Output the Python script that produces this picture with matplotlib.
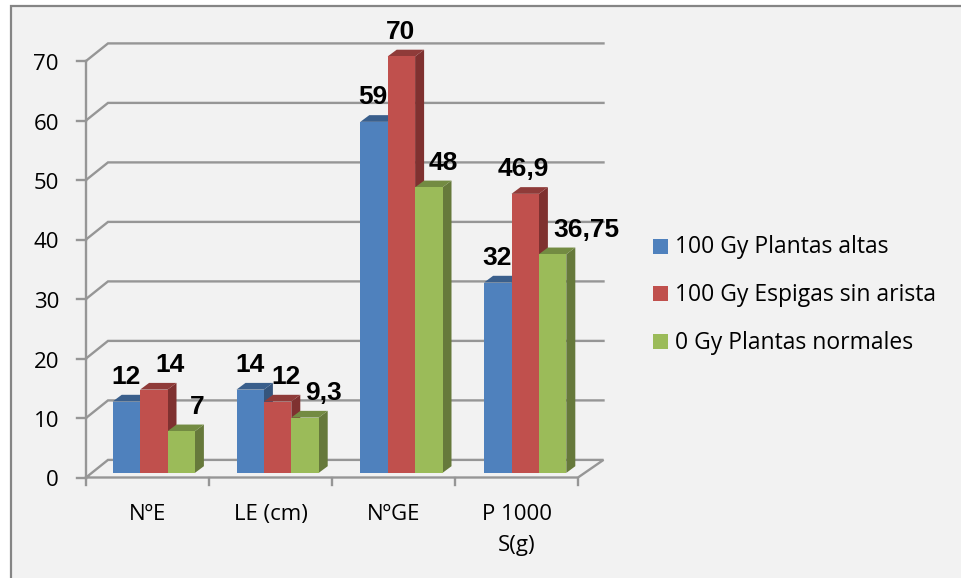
import matplotlib
matplotlib.use('Agg')
import matplotlib.pyplot as plt
from matplotlib.patches import Polygon, Rectangle


categories = ['NºE', 'LE (cm)', 'NºGE', 'P 1000\nS(g)']
series_names = ['100 Gy Plantas altas', '100 Gy Espigas sin arista', '0 Gy Plantas normales']
altas = [12, 14, 59, 32]
espigas = [14, 12, 70, 46.9]
normales = [7, 9.3, 48, 36.75]
value_labels = [['12', '14', '59', '32'],
                ['14', '12', '70', '46,9'],
                ['7', '9,3', '48', '36,75']]
y_ticks = [0, 10, 20, 30, 40, 50, 60, 70]

# sideways nudge of the value labels, in pixels, so they don't collide
label_nudge = [[0, 0, -1, -1],
               [16, 8, -1, -2],
               [16, 18, 15, 34]]

W, H = 961, 578

# colours for front, top and side of each bar
front = ['#4f81bd', '#c0504d', '#9bbb59']
top = ['#3a5f8c', '#8f3b39', '#738b42']
side = ['#35557d', '#7f3130', '#66793b']
grid_col = '#969696'
ui_font = ['Open Sans', 'DejaVu Sans']

fig = plt.figure(figsize=(W / 100, H / 100), dpi=100, facecolor='white')

# outer panel, runs off the right and bottom edges
bg = fig.add_axes([0, 0, 1, 1])
bg.set_xlim(0, W)
bg.set_ylim(H, 0)
bg.axis('off')
bg.add_patch(Rectangle((11, 6), 1000, 620, fc='#f2f2f2', ec='#858585', lw=1.6, clip_on=False))

# axes box is the front face of the plot: x in categories, y in values
left, right, y0, y70 = 86, 578, 477.5, 61
ax = fig.add_axes([left / W, 1 - y0 / H, (right - left) / W, (y0 - y70) / H])
ax.set_xlim(0, 4)
ax.set_ylim(0, 70)
ax.axis('off')

px_x = 4 / (right - left)
px_y = 70 / (y0 - y70)

# depth of the walls and of the bars, in data units
wall_dx, wall_dy = 22 * px_x, 17.6 * px_y
back_right = 4 + 25.5 * px_x
bar_dx, bar_dy = 9 * px_x, 6.7 * px_y
lift = 4.6 * px_y
bar_w = 27.4 * px_x
group_start = 26.7 * px_x
group_pitch = 123.8 * px_x
line_w = 1.7

for v in y_ticks:
    xs = [0, wall_dx, back_right]
    ys = [v, v + wall_dy, v + wall_dy]
    if v == 0:
        # floor outline
        xs = [0, 4, back_right, wall_dx, 0]
        ys = [0, 0, wall_dy, wall_dy, 0]
    ax.plot(xs, ys, color=grid_col, lw=line_w, clip_on=False, solid_joinstyle='miter', zorder=1)
    ax.plot([-9 * px_x, 0], [v, v], color=grid_col, lw=line_w, clip_on=False, zorder=1)
    ax.text(-27 * px_x, v - 3.5 * px_y, str(v), ha='right', va='center', fontsize=16,
            family=ui_font, color='black', clip_on=False)

ax.plot([0, 0], [0, 70], color=grid_col, lw=line_w, clip_on=False, zorder=1)
for i in range(5):
    ax.plot([i, i], [0, -7.5 * px_y], color=grid_col, lw=line_w, clip_on=False, zorder=1)
for i, c in enumerate(categories):
    ax.text(i + 0.5, -26.5 * px_y, c, ha='center', va='top', fontsize=16,
            family=ui_font, color='black', linespacing=1.65, clip_on=False)

# bars, drawn left to right so each covers the side of the previous one
all_series = [altas, espigas, normales]
for g in range(4):
    for s, vals in enumerate(all_series):
        x0 = g * group_pitch + group_start + s * bar_w
        x1 = x0 + bar_w
        b = lift
        t = lift + vals[g]
        z = 3 + s
        ax.add_patch(Polygon([(x1, b), (x1 + bar_dx, b + bar_dy), (x1 + bar_dx, t + bar_dy), (x1, t)],
                             fc=side[s], ec='none', zorder=z, clip_on=False))
        ax.add_patch(Polygon([(x0, t), (x1, t), (x1 + bar_dx, t + bar_dy), (x0 + bar_dx, t + bar_dy)],
                             fc=top[s], ec='none', zorder=z, clip_on=False))
        ax.add_patch(Rectangle((x0, b), bar_w, vals[g], fc=front[s], ec='none', zorder=z, clip_on=False))

# value labels sit above the top of each bar
for g in range(4):
    for s, vals in enumerate(all_series):
        x0 = g * group_pitch + group_start + s * bar_w
        ax.text(x0 + bar_w * 0.5 + label_nudge[s][g] * px_x, lift + vals[g] + 24.5 * px_y,
                value_labels[s][g], ha='center', va='center', fontsize=19, fontweight='bold',
                family='Liberation Sans', color='black', zorder=10, clip_on=False)

# legend drawn by hand to keep the square markers and spacing
for i, name in enumerate(series_names):
    yc = 246 + i * 47.8
    bg.add_patch(Rectangle((653, yc - 7.5), 15, 15, fc=front[i], ec='none'))
    bg.text(675, yc + 1, name, ha='left', va='center', fontsize=16.5, family=ui_font, color='black')

fig.savefig('out.png', dpi=100)
